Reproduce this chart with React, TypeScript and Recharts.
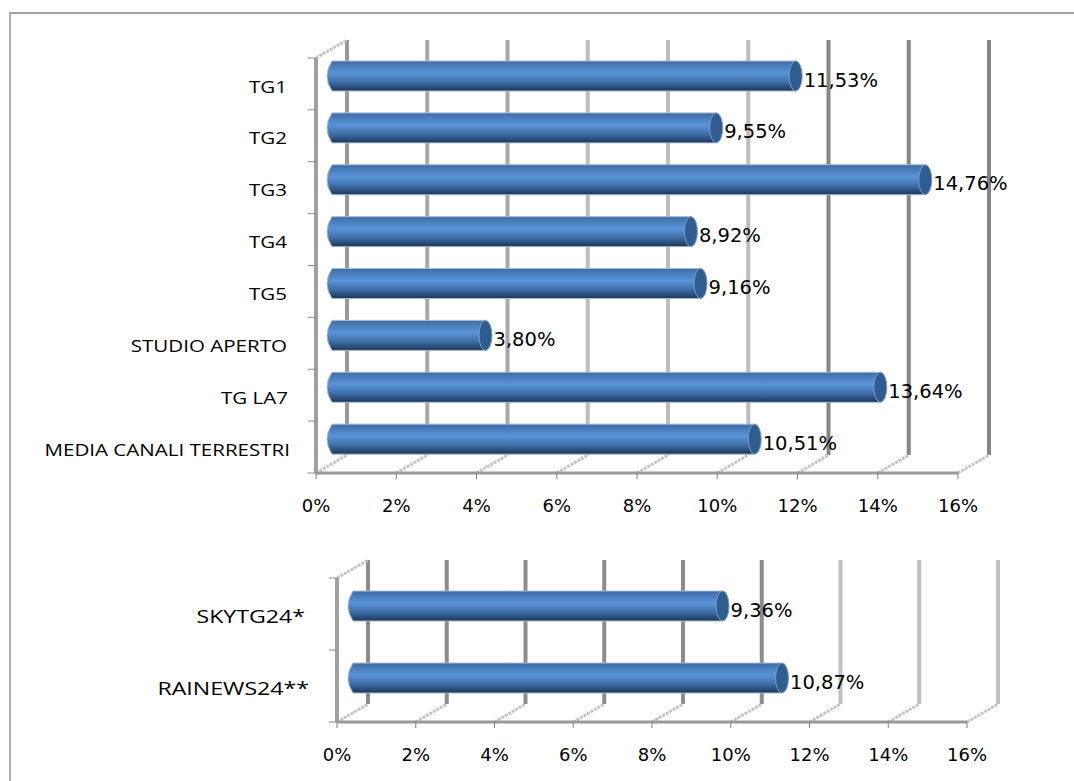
import { Bar, BarChart, CartesianGrid, LabelList, XAxis, YAxis } from "recharts";

const terrestrialLabels = ["TG1", "TG2", "TG3", "TG4", "TG5", "STUDIO APERTO", "TG LA7", "MEDIA CANALI TERRESTRI"];
const terrestrialValues = [11.53, 9.55, 14.76, 8.92, 9.16, 3.8, 13.64, 10.51];
const newsLabels = ["SKYTG24*", "RAINEWS24**"];
const newsValues = [9.36, 10.87];
const percentTicks = [0, 2, 4, 6, 8, 10, 12, 14, 16];
const terrestrialGridColors = ["#989898", "#a8a8a8", "#a8a8a8", "#bcbcbc", "#bcbcbc", "#bcbcbc", "#858585", "#858585", "#858585"];
const newsGridColors = ["#8c8c8c", "#8c8c8c", "#8c8c8c", "#8c8c8c", "#8c8c8c", "#8c8c8c", "#c0c0c0", "#c0c0c0", "#c0c0c0"];
const terrestrialLabelNudge = [0, 0, 0, 0, 0, 0, 1, 3];
const newsLabelNudge = [0, 4];

const toRows = (labels: string[], values: number[]) => labels.map((label, i) => ({ label, value: values[i] }));
const terrestrialData = toRows(terrestrialLabels, terrestrialValues);
const newsData = toRows(newsLabels, newsValues);

const DEPTH_X = 31;
const DEPTH_Y = 18;
const pct = (v: number) => `${v.toFixed(2).replace(".", ",")}%`;

function Cylinder(props: any) {
  const { x, y, width, height } = props;
  const top = y + (height - 30) / 2 - 8;
  const left = x + 11;
  const right = x + 22 + width;
  return (
    <g>
      <path
        d={`M${left + 5},${top} L${right - 5},${top} Q${right},${top + 15} ${right - 5},${top + 30} L${left + 5},${top + 30} Q${left - 5},${top + 15} ${left + 5},${top} Z`}
        fill="url(#cyl)"
        stroke="#a6bad2"
        strokeWidth={1}
      />
      <ellipse cx={right - 5} cy={top + 15} rx={6.5} ry={15} fill="#2f5d92" stroke="#7f9cc0" strokeWidth={1} />
    </g>
  );
}

function ValueLabel(props: any) {
  const { x, y, width, height, value } = props;
  return (
    <text x={x + width + 25} y={y + height / 2 - 4} dominantBaseline="central" fontFamily="DejaVu Sans" fontSize={19.5} fill="#000">
      {pct(value)}
    </text>
  );
}

function Panel({ data, top, height, left, right, bottom, colors, labelFont, labelStretch, tickGap, nudge }: any) {
  const plotH = height - top - bottom;
  const band = plotH / data.length;
  const CategoryTick = (p: any) => (
    <g>
      <line x1={left - 8} x2={left} y1={p.y - band / 2} y2={p.y - band / 2} stroke="#8c8c8c" />
      {p.index === data.length - 1 && <line x1={left - 8} x2={left} y1={p.y + band / 2} y2={p.y + band / 2} stroke="#8c8c8c" />}
      <text
        transform={`translate(${left - tickGap + nudge[p.index]},${p.y + 2}) scale(${labelStretch},1)`}
        dominantBaseline="central"
        textAnchor="end"
        fontFamily="Open Sans"
        fontSize={labelFont}
        fill="#000"
      >
        {p.payload.value}
      </text>
    </g>
  );
  const WallLine = (p: any) => {
    const c = colors[p.index] ?? "#a0a0a0";
    return (
      <g key={p.index}>
        <line x1={p.x1 + DEPTH_X} x2={p.x1 + DEPTH_X} y1={p.y1 - DEPTH_Y} y2={p.y2 - DEPTH_Y} stroke={c} strokeWidth={4} />
        <line x1={p.x1} x2={p.x1 + DEPTH_X} y1={p.y2} y2={p.y2 - DEPTH_Y} stroke="#c4c4c4" strokeWidth={3} strokeDasharray="3 1" />
        {p.index === 0 && <line x1={p.x1} x2={p.x1 + DEPTH_X} y1={p.y1} y2={p.y1 - DEPTH_Y} stroke="#c4c4c4" strokeWidth={3} strokeDasharray="3 1" />}
      </g>
    );
  };
  return (
    <div style={{ position: "absolute", left: 0, top: 0 }}>
      <BarChart width={1074} height={height} data={data} layout="vertical" margin={{ top, right, bottom: 0, left: 0 }}>
        <defs>
          <linearGradient id="cyl" x1="0" y1="0" x2="0" y2="1">
            <stop offset="0" stopColor="#3d6ca6" />
            <stop offset="0.4" stopColor="#5b94d8" />
            <stop offset="0.7" stopColor="#3f6fa8" />
            <stop offset="1" stopColor="#1c3557" />
          </linearGradient>
        </defs>
        <CartesianGrid horizontal={false} vertical={WallLine as any} />
        <XAxis
          type="number"
          domain={[0, 16]}
          ticks={percentTicks}
          tickFormatter={(v) => `${v}%`}
          height={bottom}
          tickSize={6}
          tickMargin={20}
          axisLine={{ stroke: "#999", strokeWidth: 3 }}
          tickLine={{ stroke: "#808080" }}
          tick={{ fontFamily: "DejaVu Sans", fontSize: 18, fill: "#000" }}
          interval={0}
        />
        <YAxis
          type="category"
          dataKey="label"
          width={left}
          axisLine={{ stroke: "#a0a0a0", strokeWidth: 4 }}
          tickLine={false}
          tick={CategoryTick}
          interval={0}
        />
        <Bar dataKey="value" shape={Cylinder} isAnimationActive={false} barSize={30}>
          <LabelList dataKey="value" content={(p: any) => <ValueLabel {...p} />} />
        </Bar>
      </BarChart>
    </div>
  );
}

export default function App() {
  return (
    <div style={{ position: "absolute", left: 0, top: 0, width: 1074, height: 781, background: "#fff", overflow: "hidden" }}>
      <div style={{ position: "absolute", left: 9, top: 12, width: 1065, height: 769, borderLeft: "2px solid #b0b0b0", borderTop: "2px solid #a0a0a0" }} />
      <Panel data={terrestrialData} top={58} height={530} left={316} right={116} bottom={57} colors={terrestrialGridColors} labelFont={16.5} labelStretch={1.245} tickGap={29} nudge={terrestrialLabelNudge} />
      <Panel data={newsData} top={578} height={781} left={337} right={107} bottom={59} colors={newsGridColors} labelFont={18.5} labelStretch={1.25} tickGap={32} nudge={newsLabelNudge} />
    </div>
  );
}
